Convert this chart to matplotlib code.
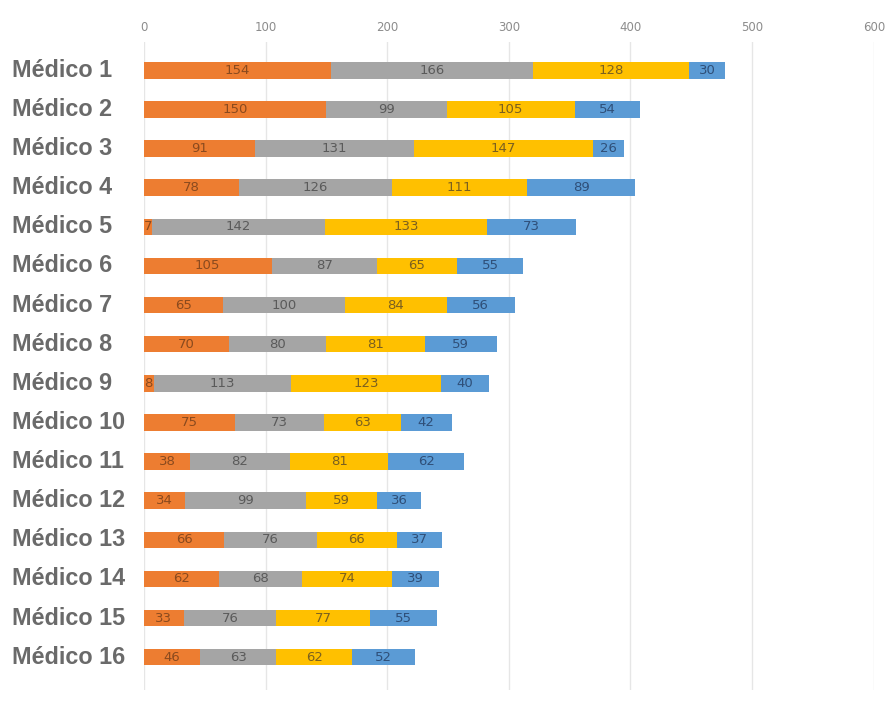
import numpy as np
import matplotlib.pyplot as plt

# Data
medicos = ['Médico %d' % i for i in range(1, 17)]
serie_naranja = [154, 150, 91, 78, 7, 105, 65, 70, 8, 75, 38, 34, 66, 62, 33, 46]
serie_gris = [166, 99, 131, 126, 142, 87, 100, 80, 113, 73, 82, 99, 76, 68, 76, 63]
serie_amarilla = [128, 105, 147, 111, 133, 65, 84, 81, 123, 63, 81, 59, 66, 74, 77, 62]
serie_azul = [30, 54, 26, 89, 73, 55, 56, 59, 40, 42, 62, 36, 37, 39, 55, 52]

series = [serie_naranja, serie_gris, serie_amarilla, serie_azul]
colores = ['#ED7D31', '#A5A5A5', '#FFC000', '#5B9BD5']
colores_texto = ['#8a4a1e', '#5a5a5a', '#7a6020', '#2f4f78']

fig = plt.figure(figsize=(8.88, 7.02), dpi=100)
ax = fig.add_axes([0.162, 0.017, 0.822, 0.923])

y = np.arange(len(medicos))
left = np.zeros(len(medicos))
for vals, c, tc in zip(series, colores, colores_texto):
    vals = np.array(vals)
    bars = ax.barh(y, vals, left=left, height=0.42, color=c, zorder=3)
    ax.bar_label(bars, labels=[str(v) for v in vals], label_type='center',
                 fontsize=9.5, color=tc, family='Liberation Sans Narrow')
    left += vals

ax.set_xlim(0, 600)
ax.set_ylim(15.84, -0.72)
ax.set_xticks(range(0, 601, 100))
ax.xaxis.tick_top()
ax.tick_params(axis='x', length=0, labelsize=8.5, labelcolor='#8c8c8c', pad=6)
ax.set_yticks([])

# row labels, left-aligned near the figure edge
for yi, nombre in zip(y, medicos):
    ax.text(-0.181, yi, nombre, transform=ax.get_yaxis_transform(),
            ha='left', va='center', fontsize=16.8, fontweight='bold',
            family='Liberation Sans', color='#6a6a6a')

ax.grid(axis='x', color='#e6e6e6', linewidth=1, zorder=0)
for s in ax.spines.values():
    s.set_visible(False)

fig.savefig('out.png', dpi=100)
